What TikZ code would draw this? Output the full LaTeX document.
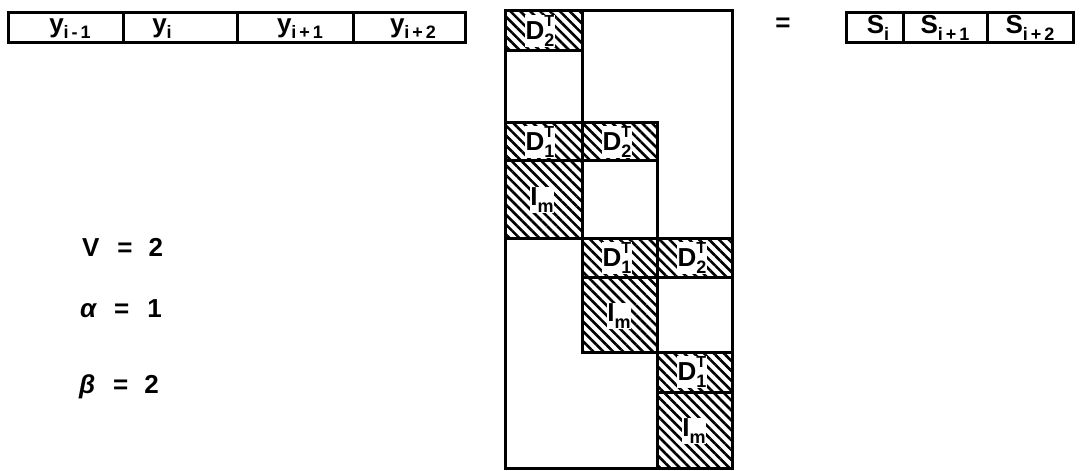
\documentclass[tikz,border=0pt]{standalone}
\usepackage{fontspec}
\setmainfont{Liberation Sans}
\usetikzlibrary{patterns.meta}
\newcommand\lsub[1]{\raisebox{-0.45ex}{\fontsize{18}{18}\selectfont #1}}
\newcommand\lsupsub[2]{\rlap{\raisebox{0.95ex}{\fontsize{16}{16}\selectfont #1}}\raisebox{-0.45ex}{\fontsize{18}{18}\selectfont #2}}
\begin{document}
\begin{tikzpicture}[x=1pt,y=-1pt,line width=3pt,
  lab/.style={font=\bfseries\fontsize{26}{26}\selectfont,inner sep=0.5pt},
  hlab/.style={lab,fill=white},
  hatch/.style={pattern={Lines[angle=-45,distance=7pt,line width=2.6pt]}}]
\useasboundingbox (0,0) rectangle (1085,471);
% y vector
\foreach \a/\b in {8/123,123/237,237/353,353/465}{\draw (\a,12) rectangle (\b,42);}
\node[lab,anchor=base] (y1) at (70,32) {y\lsub{i\,-\,1}};
\node[lab,anchor=base] (y2) at (162,32) {y\lsub{i}};
\node[lab,anchor=base] (y3) at (300,32) {y\lsub{i\,+\,1}};
\node[lab,anchor=base] (y4) at (413,32) {y\lsub{i\,+\,2}};
% matrix cells
\draw[hatch] (505,10) rectangle (582,50);
\draw (505,50) rectangle (582,122);
\draw[hatch] (505,122) rectangle (582,160);
\draw[hatch] (582,122) rectangle (657,160);
\draw[hatch] (505,160) rectangle (582,238);
\draw (582,160) rectangle (657,238);
\draw[hatch] (582,238) rectangle (657,277);
\draw[hatch] (657,238) rectangle (732,277);
\draw[hatch] (582,277) rectangle (657,352);
\draw (657,277) rectangle (732,352);
\draw[hatch] (657,352) rectangle (732,392);
\draw[hatch] (657,392) rectangle (732,468);
\draw (505,10) rectangle (732,468);
\node[hlab] (a1) at (540,31) {D\lsupsub{T}{2}};
\node[hlab] (a2) at (540,142) {D\lsupsub{T}{1}};
\node[hlab] (a3) at (617,142) {D\lsupsub{T}{2}};
\node[hlab] (a4) at (542,200) {I\lsub{m}};
\node[hlab] (a5) at (617,258) {D\lsupsub{T}{1}};
\node[hlab] (a6) at (692,258) {D\lsupsub{T}{2}};
\node[hlab] (a7) at (619,316) {I\lsub{m}};
\node[hlab] (a8) at (692,372) {D\lsupsub{T}{1}};
\node[hlab] (a9) at (694,431) {I\lsub{m}};
% equals
\node[lab] (eq) at (783,25) {=};
% S vector
\foreach \a/\b in {846/903,903/987,987/1073}{\draw (\a,12) rectangle (\b,42);}
\node[lab,anchor=base] (s1) at (878,34) {S\lsub{i}};
\node[lab,anchor=base] (s2) at (945,34) {S\lsub{i\,+\,1}};
\node[lab,anchor=base] (s3) at (1030,34) {S\lsub{i\,+\,2}};
% parameters
\node[lab,anchor=west] (p1) at (80,247) {V\hspace{18pt}=\hspace{16pt}2};
\node[lab,anchor=west] (p2) at (78,309) {\itshape α\hspace{18pt}\upshape =\hspace{18pt}1};
\node[lab,anchor=west] (p3) at (77,387) {\itshape β\hspace{18pt}\upshape =\hspace{16pt}2};
\end{tikzpicture}
\end{document}
